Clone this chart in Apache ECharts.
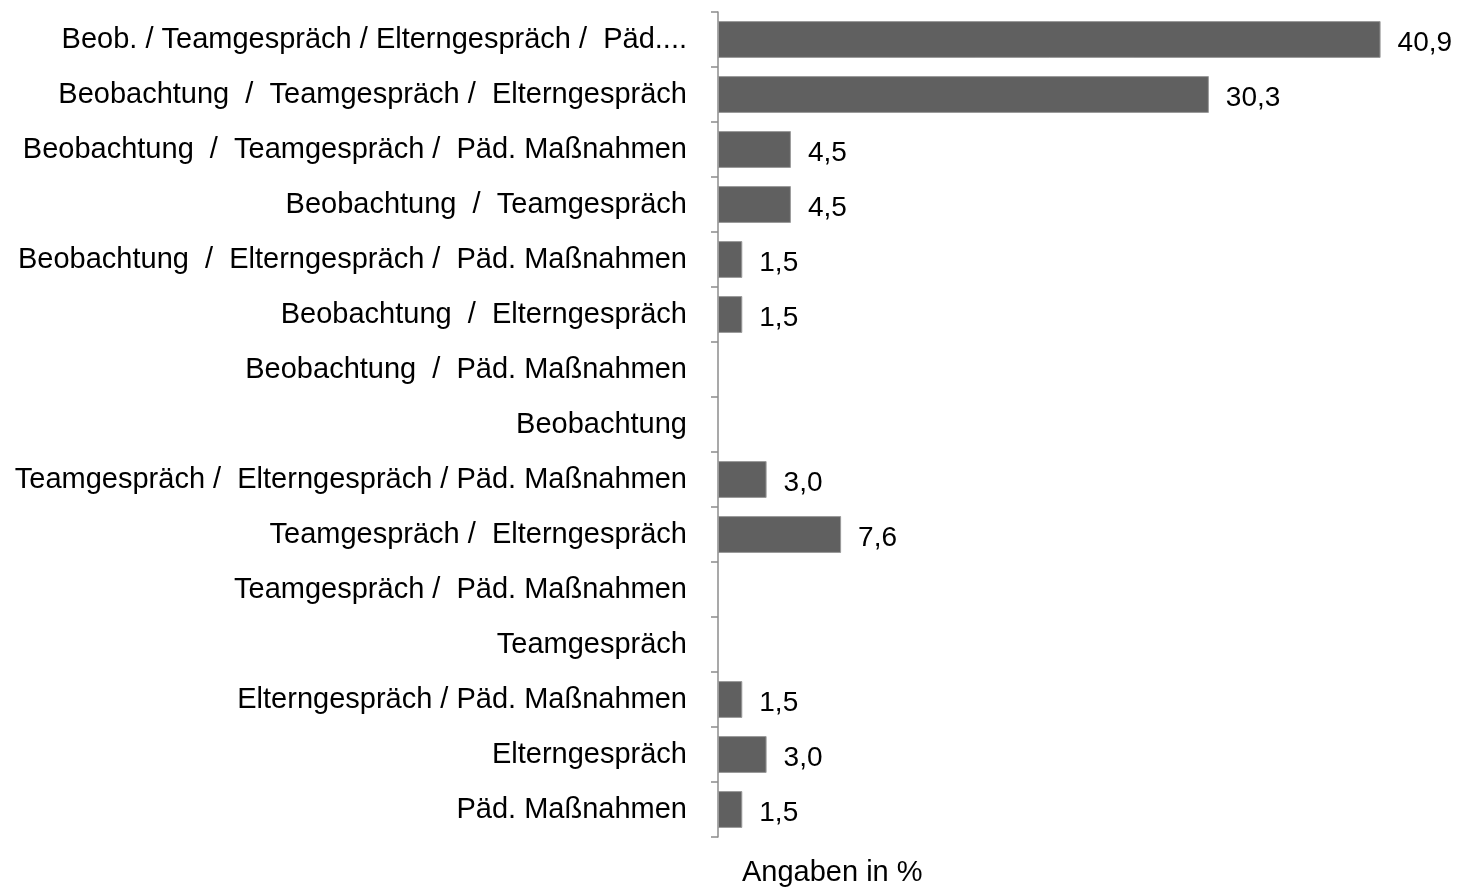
<!DOCTYPE html>
<html>
<head>
<meta charset="utf-8">
<script src="https://cdn.jsdelivr.net/npm/echarts@6/dist/echarts.min.js"></script>
<style>
  html, body { margin: 0; padding: 0; background: #fff; }
  #chart { width: 1457px; height: 887px; }
</style>
</head>
<body>
<div id="chart"></div>
<script>
var categories = [
    'Beob. / Teamgespräch / Elterngespräch /  Päd....',
    'Beobachtung  /  Teamgespräch /  Elterngespräch',
    'Beobachtung  /  Teamgespräch /  Päd. Maßnahmen',
    'Beobachtung  /  Teamgespräch',
    'Beobachtung  /  Elterngespräch /  Päd. Maßnahmen',
    'Beobachtung  /  Elterngespräch',
    'Beobachtung  /  Päd. Maßnahmen',
    'Beobachtung',
    'Teamgespräch /  Elterngespräch / Päd. Maßnahmen',
    'Teamgespräch /  Elterngespräch',
    'Teamgespräch /  Päd. Maßnahmen',
    'Teamgespräch',
    'Elterngespräch / Päd. Maßnahmen',
    'Elterngespräch',
    'Päd. Maßnahmen'
];
var values = [40.9, 30.3, 4.5, 4.5, 1.5, 1.5, null, null, 3.0, 7.6, null, null, 1.5, 3.0, 1.5];
var axisName = 'Angaben in %';

var font = '"Liberation Sans", Arial, sans-serif';

var myChart = echarts.init(document.getElementById('chart'));
myChart.setOption({
    animation: false,
    title: {
        text: axisName,
        left: 737,
        top: 853,
        textStyle: {
            fontFamily: font,
            fontSize: 29,
            fontWeight: 'normal',
            color: '#000'
        }
    },
    grid: {
        left: 718,
        right: 10,
        top: 12,
        bottom: 50
    },
    xAxis: {
        type: 'value',
        min: 0,
        max: 45,
        axisLine: { show: false },
        axisTick: { show: false },
        axisLabel: { show: false },
        splitLine: { show: false }
    },
    yAxis: {
        type: 'category',
        inverse: true,
        data: categories,
        axisLine: {
            show: true,
            lineStyle: { color: '#8c8c8c', width: 1.5 }
        },
        axisTick: {
            show: true,
            length: 7,
            lineStyle: { color: '#8c8c8c', width: 1.5 }
        },
        axisLabel: {
            margin: 31,
            fontFamily: font,
            fontSize: 29,
            color: '#000'
        }
    },
    series: [{
        type: 'bar',
        data: values,
        barWidth: '67%',
        itemStyle: {
            color: '#606060',
            borderColor: '#9a9a9a',
            borderWidth: 1
        },
        label: {
            show: true,
            position: 'right',
            distance: 17,
            offset: [0, 4],
            fontFamily: font,
            fontSize: 28,
            color: '#000',
            formatter: function (p) {
                if (p.value == null) return '';
                return p.value.toFixed(1).replace('.', ',');
            }
        }
    }]
});
</script>
</body>
</html>
